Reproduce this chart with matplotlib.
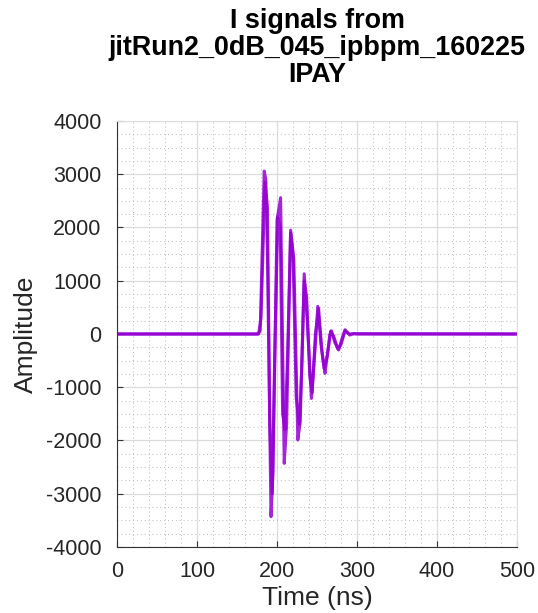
import matplotlib
matplotlib.use('Agg')
from matplotlib import pyplot as plt
from matplotlib.ticker import MultipleLocator

# two overlaid I-signal traces (time in ns, amplitude in ADC counts)
t_a = [0, 176, 179, 184, 186, 188, 192.5, 195, 200, 204.5, 209, 212, 217, 221,
       226, 229, 234, 238, 243, 247, 251, 255, 258, 260, 266, 268, 272, 277,
       281, 285, 291, 296, 300, 500]
v_a = [0, 0, 60, 3060, 2900, 1500, -3430, -2600, 2140, 2560, -2430, -1700,
       1950, 1390, -1990, -1650, 1130, 200, -1210, -400, 520, -200, -550,
       -740, -20, 60, -150, -300, -100, 80, -20, 10, 0, 0]

t_b = [0, 177, 180, 185, 188, 191, 194, 197, 201, 204, 207, 210, 213, 217,
       220, 224, 228, 231, 234, 237, 241, 244, 248, 252, 256, 259, 263, 267,
       271, 276, 280, 285, 290, 300, 500]
v_b = [0, 0, 300, 2850, 2400, -1700, -3000, -500, 2200, 2000, -1500, -1800,
       -500, 1900, 1500, -1200, -1700, -600, 1000, 700, -800, -1100, 0, 480,
       -300, -650, -400, 50, -50, -280, -200, 60, 0, 5, 0]

plt.rcParams['font.family'] = ['Liberation Sans', 'DejaVu Sans']
plt.rcParams['axes.unicode_minus'] = False

fig = plt.figure(figsize=(5.38, 6.13), dpi=100)
ax = fig.add_axes([0.2175, 0.1077, 0.7435, 0.6949])

ax.plot(t_a, v_a, color='#9400d3', lw=2.2, alpha=0.85)
ax.plot(t_b, v_b, color='#9400d3', lw=2.2, alpha=0.85)

ax.set_xlim(0, 500)
ax.set_ylim(-4000, 4000)
ax.xaxis.set_major_locator(MultipleLocator(100))
ax.xaxis.set_minor_locator(MultipleLocator(20))
ax.yaxis.set_major_locator(MultipleLocator(1000))
ax.yaxis.set_minor_locator(MultipleLocator(250))

ax.grid(which='major', color='#dcdcdc', lw=0.9, ls='-')
ax.grid(which='minor', color='#b8b8b8', lw=0.7, ls=(0, (1, 3)))
ax.set_axisbelow(True)

for side in ['top', 'right']:
    ax.spines[side].set_color('#dcdcdc')
for side in ['left', 'bottom']:
    ax.spines[side].set_color('#333333')
ax.tick_params(which='major', direction='in', length=4, labelsize=15.5,
               top=False, right=False, colors='#333333', labelcolor='#262626')
ax.tick_params(which='minor', length=0)
ax.tick_params(axis='x', pad=10)
ax.tick_params(axis='y', pad=11)

ax.set_xlabel('Time (ns)', fontsize=19, color='#262626', labelpad=3)
ax.set_ylabel('Amplitude', fontsize=19, color='#262626', labelpad=6)
ax.set_title('I signals from\njitRun2_0dB_045_ipbpm_160225\nIPAY',
             fontsize=19.4, fontweight='bold', linespacing=1.05, pad=28)

fig.savefig('out.png', dpi=100)
